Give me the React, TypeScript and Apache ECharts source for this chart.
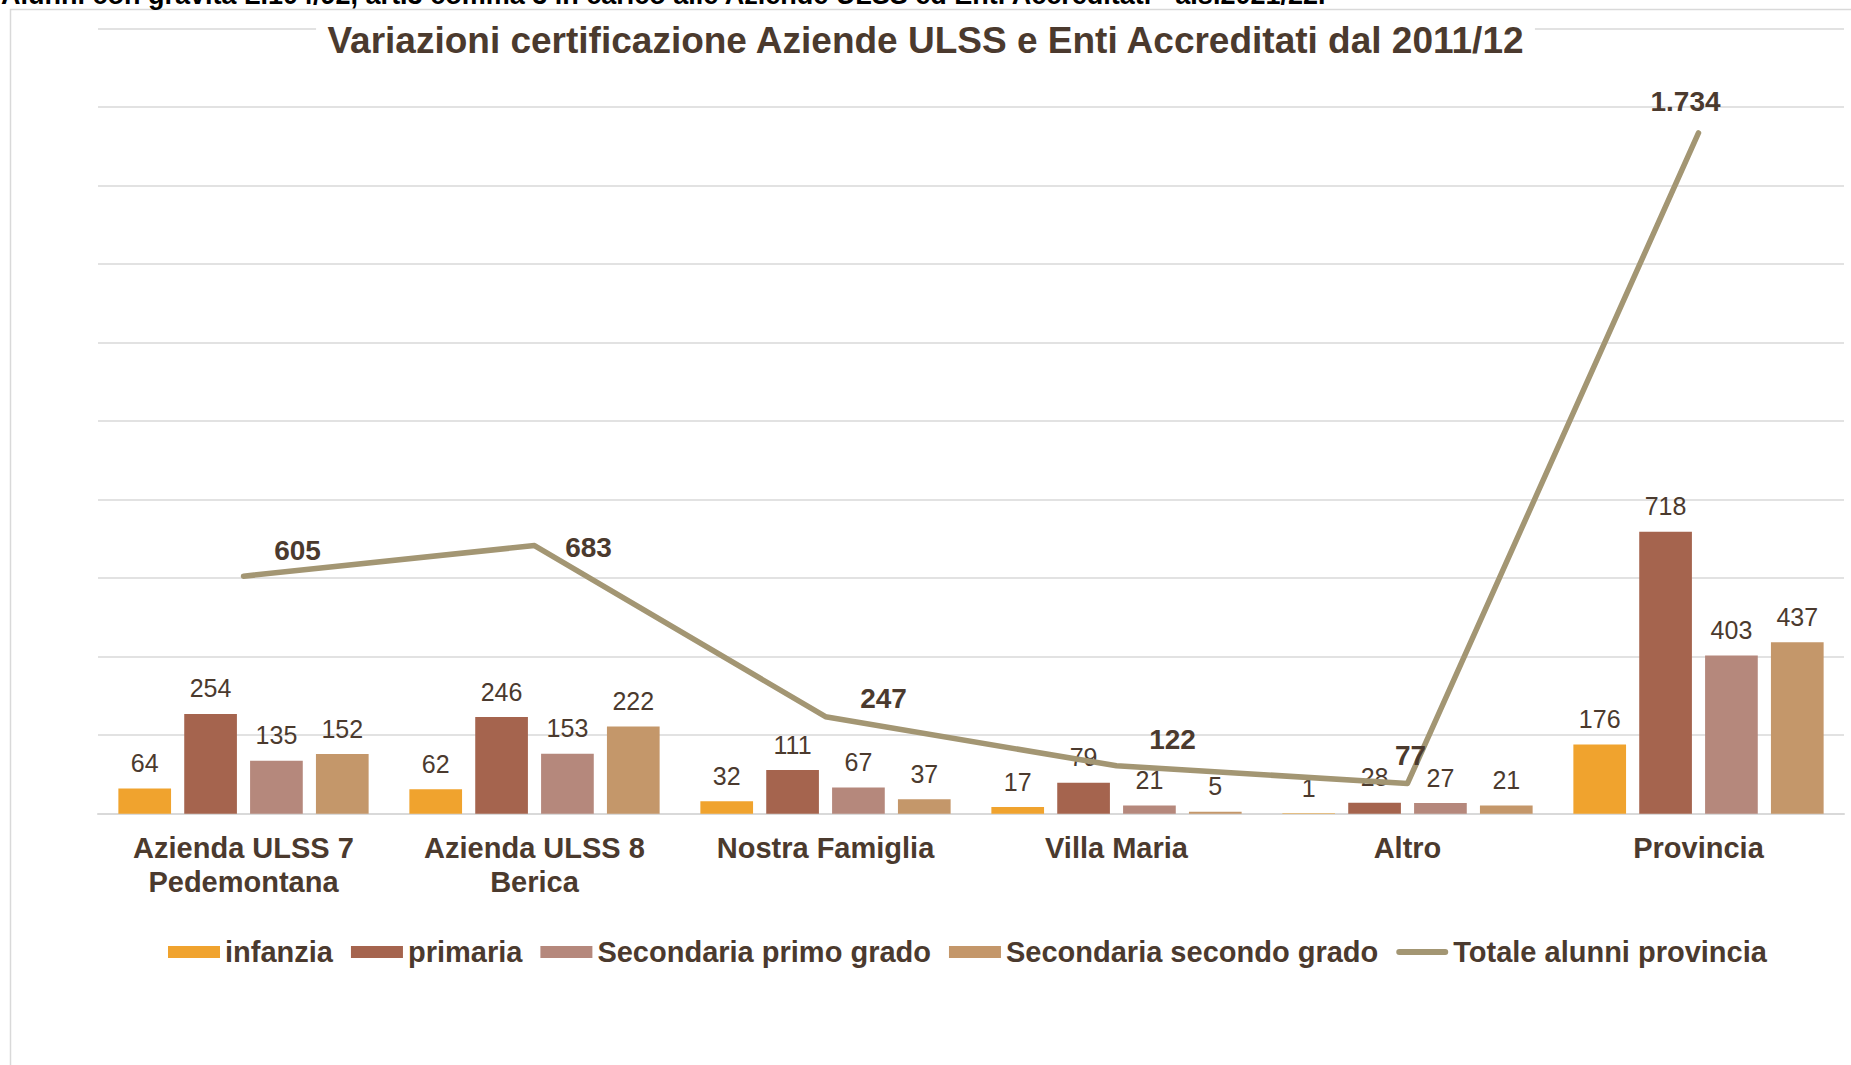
import React, { useEffect, useRef } from "react";
import * as echarts from "echarts";

const categories = [
  "Azienda ULSS 7\nPedemontana",
  "Azienda ULSS 8\nBerica",
  "Nostra Famiglia",
  "Villa Maria",
  "Altro",
  "Provincia",
];
const infanzia = [64, 62, 32, 17, 1, 176];
const primaria = [254, 246, 111, 79, 28, 718];
const secondariaPrimo = [135, 153, 67, 21, 27, 403];
const secondariaSecondo = [152, 222, 37, 5, 21, 437];
const totale = [605, 683, 247, 122, 77, 1734];

const seriesNames = [
  "infanzia",
  "primaria",
  "Secondaria primo grado",
  "Secondaria secondo grado",
  "Totale alunni provincia",
];

// label placement of the total line (style only)
const totalLabelOffsets = [
  [54, -26],
  [54, 2],
  [58, -18],
  [56, -26],
  [3, -28],
  [-13, -31],
];

const TEXT = "#4B3A2E";
const FONT = "'Liberation Sans', Arial, sans-serif";
const COLORS = ["#F0A32E", "#A5644E", "#B5887C", "#C4976A", "#A39673"];

const fmt = (v: number) => String(v).replace(/\B(?=(\d{3})+(?!\d))/g, ".");

export default function App() {
  const ref = useRef<HTMLDivElement>(null);
  useEffect(() => {
    if (!ref.current) return;
    const chart = echarts.init(ref.current, null, { renderer: "svg" });
    const barLabel = {
      show: true,
      position: "top",
      distance: 13,
      color: TEXT,
      fontSize: 25,
      fontFamily: FONT,
      formatter: (p: any) => fmt(p.value),
    };
    const barData = [infanzia, primaria, secondariaPrimo, secondariaSecondo];
    const bars = barData.map((d, i) => ({
      name: seriesNames[i],
      type: "bar",
      data: d,
      barGap: "25%",
      barCategoryGap: "14%",
      itemStyle: { color: COLORS[i] },
      label: barLabel,
    }));
    chart.setOption({
      animation: false,
      textStyle: { fontFamily: FONT },
      title: {
        text: "Variazioni certificazione Aziende ULSS e Enti Accreditati dal 2011/12",
        left: "center",
        top: 17,
        padding: [2, 10],
        backgroundColor: "#ffffff",
        textStyle: {
          fontSize: 37,
          fontWeight: "bold",
          color: TEXT,
          fontFamily: FONT,
          lineHeight: 42,
        },
      },
      legend: {
        left: 163,
        top: 930,
        itemWidth: 52,
        itemHeight: 12,
        itemGap: 18,
        data: [
          { name: seriesNames[0], icon: "rect" },
          { name: seriesNames[1], icon: "rect" },
          { name: seriesNames[2], icon: "rect" },
          { name: seriesNames[3], icon: "rect" },
          {
            name: seriesNames[4],
            icon: "path://M3,0H49A3,3 0 0 1 49,6H3A3,3 0 0 1 3,0Z",
            itemStyle: { color: COLORS[4] },
          },
        ],
        textStyle: {
          fontSize: 29,
          fontWeight: "bold",
          color: TEXT,
          fontFamily: FONT,
          lineHeight: 34,
        },
      },
      grid: { left: 98, right: 7, top: 28.5, bottom: 251.3, containLabel: false },
      xAxis: {
        type: "category",
        data: categories,
        axisTick: { show: false },
        axisLine: { lineStyle: { color: "#D9D9D9", width: 2 } },
        axisLabel: {
          interval: 0,
          margin: 17,
          fontSize: 29,
          fontWeight: "bold",
          color: TEXT,
          fontFamily: FONT,
          lineHeight: 34,
        },
      },
      yAxis: {
        type: "value",
        min: 0,
        max: 2000,
        interval: 200,
        axisLabel: { show: false },
        axisLine: { show: false },
        axisTick: { show: false },
        splitLine: { lineStyle: { color: "#D9D9D9", width: 1.5 } },
      },
      graphic: [
        {
          type: "rect",
          shape: { x: 10.5, y: 9.5, width: 1900, height: 1100 },
          style: { fill: "none", stroke: "#D9D9D9", lineWidth: 1.5 },
          silent: true,
          z: -10,
        },
        {
          type: "text",
          x: 1,
          y: -5,
          style: {
            text: "Alunni con gravità L.104/92, art.3 comma 3 in carico alle Aziende ULSS ed Enti Accreditati - a.s.2021/22.",
            font: "bold 27px 'Liberation Sans', Arial, sans-serif",
            fill: "#000000",
            verticalAlign: "middle",
          },
          silent: true,
        },
      ],
      series: [
        ...bars,
        {
          name: seriesNames[4],
          type: "line",
          data: totale.map((v, i) => ({
            value: v,
            label: { offset: totalLabelOffsets[i] },
          })),
          symbol: "circle",
          symbolSize: 1,
          showSymbol: true,
          itemStyle: { color: COLORS[4] },
          lineStyle: { color: COLORS[4], width: 5.5, cap: "round", join: "round" },
          z: 5,
          label: {
            show: true,
            position: "inside",
            color: TEXT,
            fontSize: 28,
            fontWeight: "bold",
            fontFamily: FONT,
            formatter: (p: any) => fmt(p.value),
          },
        },
      ],
    });
    return () => chart.dispose();
  }, []);
  return (
    <div
      ref={ref}
      style={{ position: "absolute", left: 0, top: 0, width: 1851, height: 1065, background: "#fff" }}
    />
  );
}
